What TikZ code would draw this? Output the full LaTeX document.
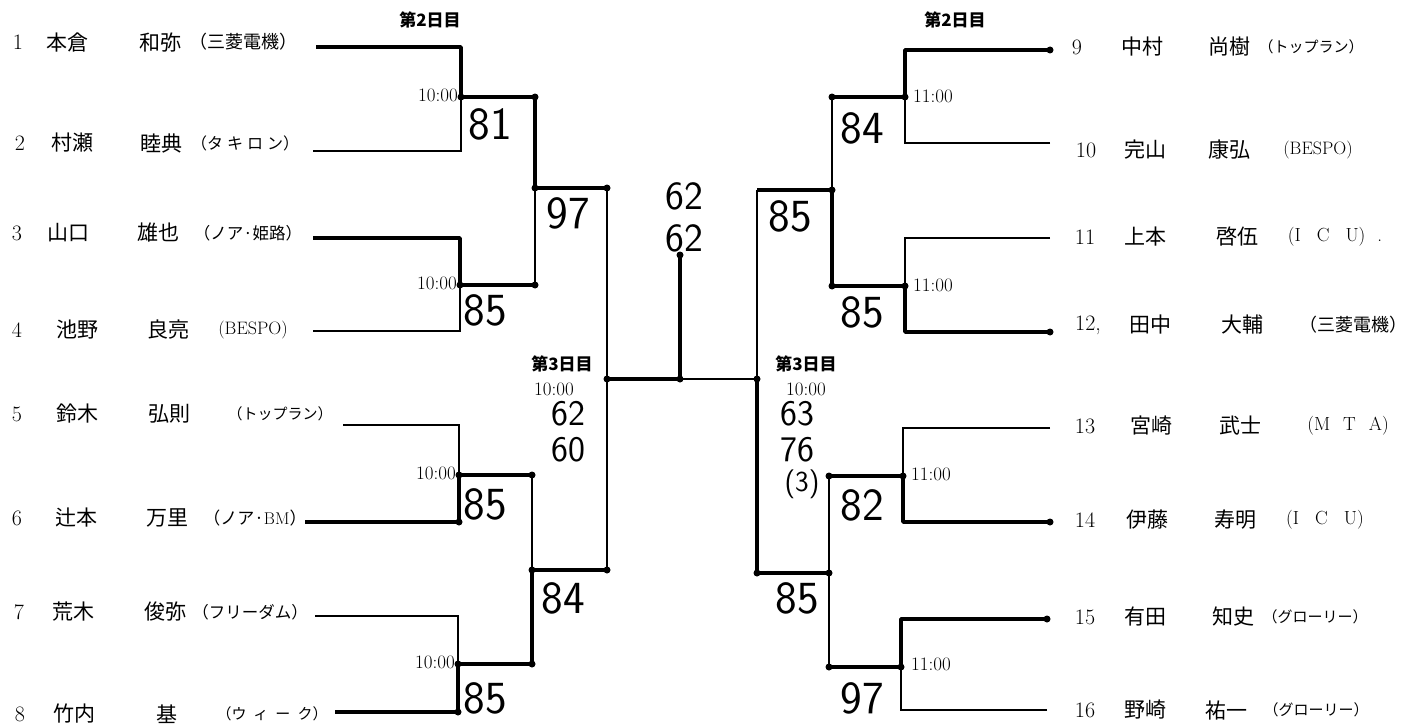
\documentclass[tikz,border=0pt]{standalone}
\usepackage{fontspec}
\newfontfamily\cjk{Noto Sans CJK JP}
\begin{document}
\begin{tikzpicture}[x=1pt,y=-1pt,
  win/.style={line width=3.6pt,line join=round},
  lose/.style={line width=1.2pt},
  mid/.style={line width=2.2pt},
  jdot/.style={circle,fill=black,inner sep=0pt,minimum size=7pt},
  score/.style={font=\sffamily\fontsize{46}{46}\selectfont,inner sep=0pt},
  score2/.style={font=\sffamily\fontsize{36}{36}\selectfont,inner sep=0pt},
  score3/.style={font=\sffamily\fontsize{29}{29}\selectfont,inner sep=0pt},
  scoref/.style={font=\sffamily\fontsize{40}{40}\selectfont,inner sep=0pt},
  tm/.style={font=\rmfamily\fontsize{19}{19}\selectfont,inner sep=0pt},
  day/.style={font=\cjk\bfseries\fontsize{17}{17}\selectfont,inner sep=0pt},
  num/.style={font=\rmfamily\fontsize{22}{22}\selectfont,inner sep=0pt},
  nm/.style={font=\cjk\fontsize{21}{21}\selectfont,inner sep=0pt},
  club/.style={inner sep=0pt}
]
\useasboundingbox (0,0) rectangle (1418,725);

% ---------- left bracket ----------
\coordinate (a1) at (316,47);  \coordinate (b1) at (461,47);
\coordinate (a2) at (313,151); \coordinate (b2) at (461,151);
\coordinate (m1) at (461,97);  \coordinate (e1) at (535,97);
\coordinate (a3) at (313,238); \coordinate (b3) at (460,238);
\coordinate (a4) at (313,331); \coordinate (b4) at (460,331);
\coordinate (m2) at (460,285); \coordinate (e2) at (535,285);
\coordinate (q1) at (535,188); \coordinate (q1e) at (607,188);
\coordinate (a5) at (343,425); \coordinate (b5) at (459,425);
\coordinate (a6) at (305,522); \coordinate (b6) at (459,522);
\coordinate (m3) at (459,475); \coordinate (e3) at (532,475);
\coordinate (a7) at (315,616); \coordinate (b7) at (458,616);
\coordinate (a8) at (335,712); \coordinate (b8) at (458,712);
\coordinate (m4) at (458,664); \coordinate (e4) at (532,664);
\coordinate (q2) at (532,570); \coordinate (q2e) at (607,570);
\coordinate (s1) at (607,379); \coordinate (f) at (680,379); \coordinate (ft) at (680,255);

\draw[win] (a1) -- (b1) -- (m1) -- (e1) -- (q1) -- (q1e);
\draw[lose] (a2) -- (b2) -- (m1);
\draw[win] (a3) -- (b3) -- (m2) -- (e2);
\draw[lose] (a4) -- (b4) -- (m2);
\draw[lose] (q1) -- (e2);
\draw[lose] (a5) -- (b5) -- (m3);
\draw[win] (a6) -- (b6) -- (m3) -- (e3);
\draw[lose] (a7) -- (b7) -- (m4);
\draw[win] (a8) -- (b8) -- (m4) -- (e4) -- (q2) -- (q2e);
\draw[lose] (e3) -- (q2);
\draw[mid] (q1e) -- (s1);
\draw[lose] (s1) -- (q2e);
\draw[win] (s1) -- (f) -- (ft);

% ---------- right bracket ----------
\coordinate (c9) at (1050,50);   \coordinate (d9) at (905,50);
\coordinate (c10) at (1050,143); \coordinate (d10) at (905,143);
\coordinate (n1) at (905,97);    \coordinate (g1) at (832,97);
\coordinate (c11) at (1050,238); \coordinate (d11) at (905,238);
\coordinate (c12) at (1050,332); \coordinate (d12) at (905,332);
\coordinate (n2) at (905,286);   \coordinate (g2) at (832,286);
\coordinate (r1) at (832,190);   \coordinate (r1e) at (757,190);
\coordinate (c13) at (1050,428); \coordinate (d13) at (903,428);
\coordinate (c14) at (1050,522); \coordinate (d14) at (903,522);
\coordinate (n3) at (903,476);   \coordinate (g3) at (829,476);
\coordinate (c15) at (1047,619); \coordinate (d15) at (901,619);
\coordinate (c16) at (1047,710); \coordinate (d16) at (901,710);
\coordinate (n4) at (901,667);   \coordinate (g4) at (829,667);
\coordinate (r2) at (829,573);   \coordinate (r2e) at (757,573);
\coordinate (s2) at (757,379);

\draw[win] (c9) -- (d9) -- (n1) -- (g1);
\draw[lose] (c10) -- (d10) -- (n1);
\draw[lose] (c11) -- (d11) -- (n2);
\draw[win] (c12) -- (d12) -- (n2) -- (g2) -- (r1) -- (r1e);
\draw[mid] (g1) -- (r1);
\draw[win] (c14) -- (d14) -- (n3) -- (g3);
\draw[lose] (c13) -- (d13) -- (n3);
\draw[win] (c15) -- (d15) -- (n4) -- (g4);
\draw[lose] (c16) -- (d16) -- (n4);
\draw[mid] (g3) -- (r2);
\draw[lose] (r2) -- (g4);
\draw[win] (r2) -- (r2e) -- (s2);
\draw[lose] (s2) -- (r1e);
\draw[lose] (f) -- (s2);

% junction dots
\foreach \p in {m1,e1,q1,q1e,m2,e2,m3,e3,b6,m4,e4,b8,q2,q2e,s1,f,ft,s2,
  c9,n1,g1,r1,n2,g2,c12,n3,g3,c14,n4,g4,r2,r2e,c15}
  \node[jdot] (dot-\p) at (\p) {};

% ---------- day / time labels ----------
\node[day] (day2l) at (430,20) {第2日目};
\node[day] (day2r) at (955,20) {第2日目};
\node[day] (day3l) at (562,364) {第3日目};
\node[day] (day3r) at (806,364) {第3日目};
\node[tm] (t3l) at (554,389) {10:00};
\node[tm] (t3r) at (806,389) {10:00};
\node[tm,anchor=east] (t1) at (458,95) {10:00};
\node[tm,anchor=east] (t2) at (457,283) {10:00};
\node[tm,anchor=east] (t3) at (456,473) {10:00};
\node[tm,anchor=east] (t4) at (455,662) {10:00};
\node[tm,anchor=west] (t5) at (913,96) {11:00};
\node[tm,anchor=west] (t6) at (913,285) {11:00};
\node[tm,anchor=west] (t7) at (911,474) {11:00};
\node[tm,anchor=west] (t8) at (911,664) {11:00};

% ---------- handwritten scores ----------
\node[score] (h1) at (490,124) {81};
\node[score] (h2) at (568,213) {97};
\node[score] (h3) at (485,310) {85};
\node[score] (h4) at (485,504) {85};
\node[score] (h5) at (563,598) {84};
\node[score] (h6) at (485,698) {85};
\node[score2] (h7) at (568,414) {62};
\node[score2] (h8) at (568,450) {60};
\node[scoref] (h9) at (684,196) {62};
\node[scoref] (h10) at (684,238) {62};
\node[score] (h11) at (862,128) {84};
\node[score] (h12) at (790,216) {85};
\node[score] (h13) at (862,312) {85};
\node[score2] (h14) at (797,414) {63};
\node[score2] (h15) at (797,450) {76};
\node[score3] (h16) at (802,484) {(3)};
\node[score] (h17) at (862,505) {82};
\node[score] (h18) at (797,598) {85};
\node[score] (h19) at (862,698) {97};

% ---------- players ----------
\foreach \i/\lbl/\y/\nx/\fam/\fx/\giv/\gx/\cx/\club in {
 1/1/42/18/本倉/67/和弥/160/243/{\cjk\fontsize{18}{18}\selectfont （三菱電機）},
 2/2/143/20/村瀬/72/睦典/161/245/{\cjk\fontsize{16}{16}\selectfont （タ\hspace{4pt}キ\hspace{4pt}ロ\hspace{4pt}ン）},
 3/3/233/17/山口/68/雄也/158/248/{\cjk\fontsize{16.5}{16.5}\selectfont （ノア·姫路）},
 4/4/330/17/池野/77/良亮/168/253/{\rmfamily\fontsize{18}{18}\selectfont\addfontfeature{LetterSpace=25}(BESPO)},
 5/5/414/17/鈴木/77/弘則/169/280/{\cjk\fontsize{15}{15}\selectfont （トップラン）},
 6/6/518/17/辻本/76/万里/167/255/{\cjk\fontsize{17}{17}\selectfont （ノア·\rmfamily BM\cjk）},
 7/7/612/19/荒木/73/俊弥/165/250/{\cjk\fontsize{16.5}{16.5}\selectfont （フリーダム）},
 8/8/714/20/竹内/74/基/167/272/{\cjk\fontsize{15}{15}\selectfont （ウ\hspace{7pt}ィ\hspace{7pt}ー\hspace{7pt}ク）},
 9/9/47/1077/中村/1142/尚樹/1229/1311/{\cjk\fontsize{15}{15}\selectfont （トップラン）},
 10/10/150/1086/完山/1145/康弘/1229/1318/{\rmfamily\fontsize{18}{18}\selectfont\addfontfeature{LetterSpace=25}(BESPO)},
 11/11/237/1085/上本/1145/啓伍/1237/1335/{\rmfamily\fontsize{19}{19}\selectfont (I\hspace{16pt}C\hspace{16pt}U)\hspace{12pt}.},
 12/{12,}/325/1088/田中/1150/大輔/1242/1353/{\cjk\fontsize{18}{18}\selectfont （三菱電機）},
 13/13/426/1085/宮崎/1151/武士/1240/1348/{\rmfamily\fontsize{19}{19}\selectfont (M\hspace{13pt}T\hspace{13pt}A)},
 14/14/520/1085/伊藤/1147/寿明/1235/1325/{\rmfamily\fontsize{19}{19}\selectfont (I\hspace{16pt}C\hspace{16pt}U)},
 15/15/617/1085/有田/1145/知史/1233/1315/{\cjk\fontsize{15}{15}\selectfont （グローリー）},
 16/16/710/1085/野崎/1145/祐一/1226/1316/{\cjk\fontsize{15}{15}\selectfont （グローリー）}}
{
  \node[num] (num\i) at (\nx,\y) {\lbl};
  \node[nm] (fam\i) at (\fx,\y) {\fam};
  \node[nm] (giv\i) at (\gx,\y) {\giv};
  \node[club] (club\i) at (\cx,\y) {\club};
}
\end{tikzpicture}
\end{document}
